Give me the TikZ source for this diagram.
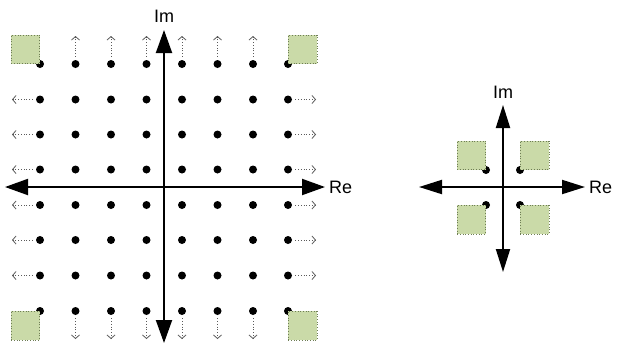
\documentclass[tikz,border=0pt]{standalone}
\usepackage{fontspec}
\setmainfont{Liberation Sans}
\usetikzlibrary{arrows.meta}
\definecolor{sqfill}{RGB}{202,218,168}
\definecolor{sqline}{RGB}{110,125,85}
\definecolor{arrgray}{RGB}{90,90,90}
\tikzset{
  dotnode/.style={circle,fill=black,inner sep=0pt,minimum size=8pt},
  axis/.style={line width=2pt,{Triangle[length=23pt,width=16pt]}-{Triangle[length=23pt,width=16pt]}},
  saxis/.style={line width=2pt,{Triangle[length=23pt,width=14pt]}-{Triangle[length=23pt,width=14pt]}},
  outarrow/.style={draw=arrgray,line width=0.8pt,dotted,-{Straight Barb[length=3.5pt,width=8pt]},shorten <=3pt},
  sq/.style={fill=sqfill,draw=sqline,dotted,line width=0.7pt,minimum width=28.5pt,minimum height=28.5pt,inner sep=0pt},
  lbl/.style={font=\fontsize{18}{21}\selectfont,inner sep=0pt}
}
\begin{document}
\begin{tikzpicture}[x=1pt,y=-1pt]
\useasboundingbox (0,0) rectangle (620,349);
% left constellation dots
\foreach \i/\x in {1/40,2/75.5,3/111,4/146.5,5/182,6/217.5,7/253,8/288}{
  \foreach \j/\y in {1/64,2/99.5,3/134.5,4/169.5,5/205,6/240,7/275.5,8/311}{
    \node[dotnode] (d\i-\j) at (\x,\y) {};
  }
}
% outward dotted arrows
\foreach \i in {2,...,7}{
  \path (d\i-1) ++(0,-28) coordinate (u\i);
  \draw[outarrow] (d\i-1) -- (u\i);
  \path (d\i-8) ++(0,28) coordinate (b\i);
  \draw[outarrow] (d\i-8) -- (b\i);
}
\foreach \j in {2,...,7}{
  \path (d1-\j) ++(-28,0) coordinate (l\j);
  \draw[outarrow] (d1-\j) -- (l\j);
  \path (d8-\j) ++(28,0) coordinate (r\j);
  \draw[outarrow] (d8-\j) -- (r\j);
}
% corner squares
\node[sq,anchor=south east] (s1) at (d1-1.center) {};
\node[sq,anchor=south west] (s2) at (d8-1.center) {};
\node[sq,anchor=north east] (s3) at (d1-8.center) {};
\node[sq,anchor=north west] (s4) at (d8-8.center) {};
% axes
\coordinate (axL) at (5,187);
\coordinate (axR) at (325,187);
\coordinate (axT) at (164,30);
\coordinate (axB) at (164,343);
\draw[axis] (axL) -- (axR);
\draw[axis] (axB) -- (axT);
\node[lbl,anchor=west] (re1) at (329,187) {Re};
\node[lbl] (im1) at (164,16) {Im};
% right constellation
\node[dotnode] (q1) at (486,170) {};
\node[dotnode] (q2) at (520,170) {};
\node[dotnode] (q3) at (486,205) {};
\node[dotnode] (q4) at (520,205) {};
\node[sq,anchor=south east] (t1) at (q1.center) {};
\node[sq,anchor=south west] (t2) at (q2.center) {};
\node[sq,anchor=north east] (t3) at (q3.center) {};
\node[sq,anchor=north west] (t4) at (q4.center) {};
\coordinate (bxL) at (419,187);
\coordinate (bxR) at (585,187);
\coordinate (bxT) at (503,105);
\coordinate (bxB) at (503,272);
\draw[saxis] (bxL) -- (bxR);
\draw[saxis] (bxB) -- (bxT);
\node[lbl,anchor=west] (re2) at (589,187) {Re};
\node[lbl] (im2) at (503,92) {Im};
\end{tikzpicture}
\end{document}
